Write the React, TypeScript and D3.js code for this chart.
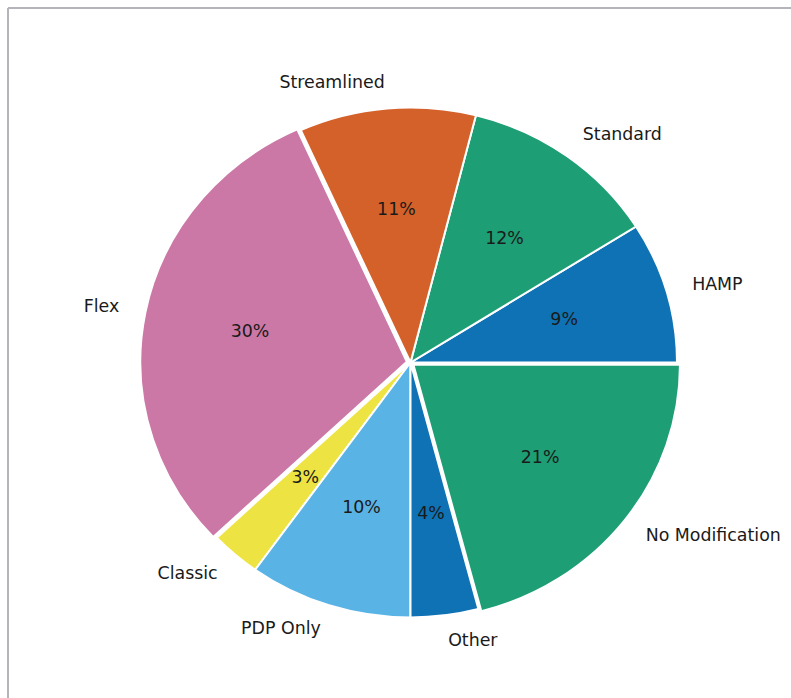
import React from "react";
import * as d3 from "d3";

const categories = ["HAMP", "Standard", "Streamlined", "Flex", "Classic", "PDP Only", "Other", "No Modification"];
const shares = [8.95, 12.1, 10.7, 30.3, 3.05, 9.9, 4.1, 20.9];
const explodes = [0, 0, 0, 0.014, 0, 0, 0, 0.014];
const colors = ["#0E72B4", "#1D9E74", "#D4612A", "#CB78A7", "#EDE443", "#5AB3E5", "#0E72B4", "#1D9E74"];

const W = 791;
const H = 698;
const cx = 410.5;
const cy = 362.5;
const rx = 266.5;
const ry = 255;
const FONT = "'DejaVu Sans', sans-serif";
const FS = 17.4;

export default function App() {
  const data = categories.map((c, i) => ({ name: c, value: shares[i], explode: explodes[i], color: colors[i] }));
  const total = d3.sum(shares);
  // matplotlib style: start at 3 o'clock, counter-clockwise
  const pie = d3
    .pie<any>()
    .sort(null)
    .value((d) => d.value)
    .startAngle(Math.PI / 2)
    .endAngle(Math.PI / 2 - 2 * Math.PI);
  const arcs = pie(data);
  const arcGen = d3.arc<any>().innerRadius(0).outerRadius(rx);
  const sy = ry / rx;

  return (
    <svg width={W} height={H} style={{ position: "absolute", left: 0, top: 0, background: "#fff" }}>
      <line x1={8} y1={8} x2={W} y2={8} stroke="#b4b4bb" strokeWidth={2} />
      <line x1={8} y1={8} x2={8} y2={H} stroke="#b4b4bb" strokeWidth={2} />
      {arcs.map((a, i) => {
        const mid = (a.startAngle + a.endAngle) / 2; // d3 angle (clockwise from north)
        const ux = Math.sin(mid);
        const uy = -Math.cos(mid);
        const ox = a.data.explode * rx * ux;
        const oy = a.data.explode * ry * uy;
        return (
          <g key={"w" + i} transform={`translate(${cx + ox},${cy + oy}) scale(1,${sy})`}>
            <path
              d={arcGen(a) as string}
              fill={a.data.color}
              stroke="#fff"
              strokeWidth={2}
              vectorEffect="non-scaling-stroke"
            />
          </g>
        );
      })}
      {arcs.map((a, i) => {
        const mid = (a.startAngle + a.endAngle) / 2;
        const ux = Math.sin(mid);
        const uy = -Math.cos(mid);
        const e = a.data.explode;
        const lx = cx + (e + 1.1) * rx * ux;
        const ly = cy + (e + 1.1) * ry * uy;
        const px = cx + (e + 0.6) * rx * ux;
        const py = cy + (e + 0.6) * ry * uy;
        const pct = ((a.data.value / total) * 100).toFixed(0) + "%";
        return (
          <g key={"t" + i} fontFamily={FONT} fontSize={FS} fill="#1a1a1a">
            <text x={lx} y={ly} dy="0.28em" textAnchor={ux > 0 ? "start" : "end"}>
              {a.data.name}
            </text>
            <text x={px} y={py} dy="0.28em" textAnchor="middle">
              {pct}
            </text>
          </g>
        );
      })}
    </svg>
  );
}
